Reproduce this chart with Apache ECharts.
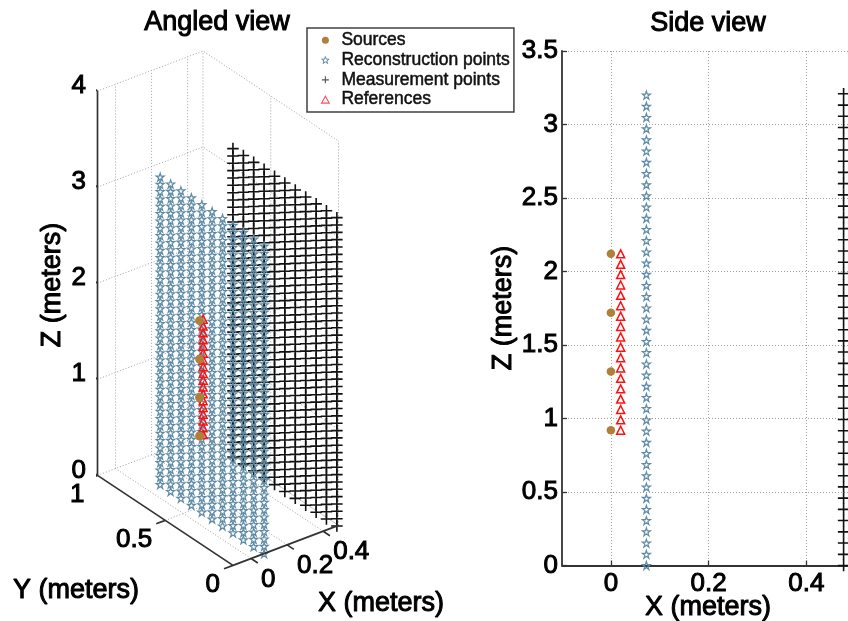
<!DOCTYPE html>
<html><head><meta charset="utf-8">
<script src="https://cdn.jsdelivr.net/npm/echarts@6/dist/echarts.min.js"></script>
<style>html,body{margin:0;padding:0;background:#fff}#c{width:848px;height:621px}</style>
</head><body><div id="c"></div>
<script>
// ---- data (metres) ----
const reconX = 0.0726;
const measX = 0.476;
const sourceX = 0;
const refX = 0.02;
const sourceRefY = 0.38;
const planeY = [0,0.077,0.153,0.23,0.307,0.384,0.46,0.537,0.614,0.69,0.767];
const reconZ = [0,0.076,0.152,0.229,0.305,0.381,0.457,0.533,0.61,0.686,0.762,0.838,0.914,0.99,1.067,1.143,1.219,1.295,1.371,1.448,1.524,1.6,1.676,1.752,1.829,1.905,1.981,2.057,2.133,2.21,2.286,2.362,2.438,2.514,2.59,2.667,2.743,2.819,2.895,2.971,3.048,3.124,3.2];
const measZ = [0,0.076,0.153,0.229,0.306,0.382,0.458,0.535,0.611,0.688,0.764,0.84,0.917,0.993,1.07,1.146,1.222,1.299,1.375,1.452,1.528,1.604,1.681,1.757,1.834,1.91,1.986,2.063,2.139,2.216,2.292,2.368,2.445,2.521,2.598,2.674,2.75,2.827,2.903,2.98,3.056,3.132,3.209];
const sourceZ = [0.92,1.32,1.72,2.12];
const refZ = [0.92,0.991,1.061,1.132,1.202,1.273,1.344,1.414,1.485,1.555,1.626,1.696,1.767,1.838,1.908,1.979,2.049,2.12];
const xTicks = [0,0.2,0.4];
const yTicks = [0,0.5,1];
const zTicks = [0,1,2,3,4];
const xRange = [-0.1,0.485];
const yRange = [0,1];
const zRange = [0,4];
const seriesNames = ['Sources','Reconstruction points','Measurement points','References'];

// ---- styling ----
const FONT = '"Liberation Sans", Arial, sans-serif';
const AX = '#333333', GRIDC = '#a0a0a0';
const BROWN = '#b0803a', BLUE = '#5f8ba6', RED = '#ff1010', BLACK = '#111111';
const STAR = 'path://M5 0L6.2 3.6L10 3.6L6.9 5.9L8.1 9.5L5 7.2L1.9 9.5L3.1 5.9L0 3.6L3.8 3.6Z';
const PLUS = 'path://M5 0V10M0 5H10';
const TRI = 'path://M5 0L10 9L0 9Z';
const TICKFONT = {fontFamily:FONT,fontWeight:'normal',fontSize:26,color:'#000',textBorderColor:'#000',textBorderWidth:1};

// oblique view of the 3-D box onto the hidden plane of the left grid
const proj = (x,y,z) => [x - 0.7515*y, 0.3794*x + 0.4992*y + 0.533*z];
const uMin = proj(xRange[0],yRange[1],0)[0], uMax = proj(xRange[1],yRange[0],0)[0];
const vMin = proj(xRange[0],yRange[0],0)[1], vMax = proj(xRange[1],yRange[1],zRange[1])[1];

const grid3 = (x, ys, zs) => { const o=[]; ys.forEach(y=>zs.forEach(z=>o.push(proj(x,y,z)))); return o; };
const side = (x, zs) => zs.map(z=>[x,z]);

const polyl = (segs) => { const o=[]; segs.forEach(s=>{ s.forEach(p=>o.push(proj(p[0],p[1],p[2]))); o.push([null,null]); }); return o; };
const [x0,x1]=xRange, [y0,y1]=yRange, zT=zRange[1];
const gridSegs = [];
zTicks.forEach(z=>gridSegs.push([[x0,y1,z],[x1,y1,z],[x1,y0,z]]));
xTicks.concat([x1]).forEach(x=>{ gridSegs.push([[x,y1,0],[x,y1,zT]]); gridSegs.push([[x,y0,0],[x,y1,0]]); });
gridSegs.push([[x1,0.5,0],[x1,0.5,zT]]);
gridSegs.push([[x1,y0,0],[x1,y0,zT]]);
gridSegs.push([[x0,0.5,0],[x1,0.5,0]]);
const axisSegs = [
  [[x0,y1,0],[x0,y1,zT]],
  [[x0,y0,0],[x0,y1,0]],
  [[x0,y0,0],[x1,y0,0]]
];
zTicks.forEach(z=>axisSegs.push([[x0,y1,z],[x0,y1+0.06,z]]));
yTicks.forEach(y=>axisSegs.push([[x0,y,0],[x0-0.05,y,0]]));
xTicks.forEach(x=>axisSegs.push([[x,y0,0],[x,y0-0.05,0]]));

const tickLabels = (pts, texts, align, offset, name) => ({
  type:'scatter', xAxisIndex:0, yAxisIndex:0, symbolSize:0, silent:true, clip:false, name,
  itemStyle:{opacity:1},
  data: pts.map((p,i)=>({value:p, txt:String(texts[i])})),
  label:Object.assign({show:true, position:'inside', align, verticalAlign:'middle', offset,
    formatter:(d)=>d.data.txt}, TICKFONT),
  z:6
});

const mark = (name, symbol, size, style, z, data, xi) => ({
  type:'scatter', name, symbol, symbolSize:size, itemStyle:Object.assign({opacity:1},style), data, z,
  xAxisIndex:xi, yAxisIndex:xi, silent:true, clip:false, progressive:0
});
const sSource={color:BROWN,borderWidth:0}, sStar={color:'none',borderColor:BLUE,borderWidth:1.2},
      sPlus={color:'none',borderColor:BLACK,borderWidth:1.6}, sRef={color:'none',borderColor:RED,borderWidth:1.5};

const txt = (text,x,y,rot) => ({type:'text', x, y, rotation:rot||0, z:20,
  style:{text, fontFamily:FONT, fontWeight:'normal', fontSize:27, fill:'#000', stroke:'#000', lineWidth:1, align:'center', verticalAlign:'middle'}});

const option = {
  animation:false,
  backgroundColor:'#fff',
  grid:[
    {left:97.5, top:51, width:241, height:514.4},
    {left:562, top:51, width:286, height:514.5}
  ],
  xAxis:[
    {type:'value', gridIndex:0, min:uMin, max:uMax, show:false},
    {type:'value', gridIndex:1, min:xRange[0], max:xRange[1], position:'bottom',
     axisLine:{show:true,onZero:false,lineStyle:{color:AX,width:1.8}},
     axisTick:{show:true,inside:true,length:5,customValues:xTicks,lineStyle:{color:AX,width:1.3}},
     axisLabel:Object.assign({customValues:xTicks,margin:5,hideOverlap:false},TICKFONT),
     splitLine:{show:true,lineStyle:{color:GRIDC,type:[1,2],width:1}}}
  ],
  yAxis:[
    {type:'value', gridIndex:0, min:vMin, max:vMax, show:false},
    {type:'value', gridIndex:1, min:0, max:3.5, interval:0.5, position:'left',
     axisLine:{show:true,onZero:false,lineStyle:{color:AX,width:1.8}},
     axisTick:{show:true,inside:true,length:5,lineStyle:{color:AX,width:1.3}},
     axisLabel:Object.assign({margin:4,padding:[4,0,0,0]},TICKFONT),
     splitLine:{show:true,lineStyle:{color:GRIDC,type:[1,2],width:1}}}
  ],
  legend:{
    show:true, orient:'vertical', left:307, top:28, z:30,
    data:[
      {name:seriesNames[0],icon:'circle',itemStyle:{color:BROWN,borderWidth:0,opacity:1}},
      {name:seriesNames[1],icon:STAR,itemStyle:{color:'none',borderColor:BLUE,borderWidth:1,opacity:1}},
      {name:seriesNames[2],icon:PLUS,itemStyle:{color:'none',borderColor:'#555',borderWidth:1.1,opacity:1}},
      {name:seriesNames[3],icon:TRI,itemStyle:{color:'none',borderColor:'#ff5060',borderWidth:1.1,opacity:1}}
    ],
    selectedMode:false, backgroundColor:'#fff', borderColor:'#404040', borderWidth:1.5,
    padding:[3,4,3,12], itemWidth:22, itemHeight:7, itemGap:1.3,
    textStyle:{fontFamily:FONT,fontWeight:'normal',fontSize:17.5,color:'#111',lineHeight:17,textBorderColor:'#111',textBorderWidth:0.5}
  },
  graphic:[
    txt('Angled view',217,23), txt('Side view',708,24),
    txt('Z (meters)',53,285,Math.PI/2), txt('Y (meters)',76,591), txt('X (meters)',381,604),
    txt('Z (meters)',504,308,Math.PI/2), txt('X (meters)',708,608)
  ],
  series:[
    {type:'line',xAxisIndex:0,yAxisIndex:0,name:'walls',data:polyl(gridSegs),showSymbol:false,symbol:'none',silent:true,clip:false,connectNulls:false,lineStyle:{color:GRIDC,width:1,type:[1,2]},z:1},
    {type:'line',xAxisIndex:0,yAxisIndex:0,name:'axes',data:polyl(axisSegs),showSymbol:false,symbol:'none',silent:true,clip:false,connectNulls:false,lineStyle:{color:AX,width:1.7},z:5},
    tickLabels(zTicks.map(z=>proj(x0,y1,z)),zTicks,'right',[-11.5,-5],'zl'),
    tickLabels(yTicks.map(y=>proj(x0,y,0)),yTicks,'right',[-13,19],'yl'),
    tickLabels(xTicks.map(x=>proj(x,y0,0)),xTicks,'left',[10,21],'xl'),
    mark(seriesNames[2],PLUS,11.5,sPlus,2,grid3(measX,planeY,measZ),0),
    mark(seriesNames[1],STAR,8,sStar,3,grid3(reconX,planeY,reconZ),0),
    mark(seriesNames[3],TRI,8,sRef,4,refZ.map(z=>proj(refX,sourceRefY,z)),0),
    mark(seriesNames[0],'circle',9,sSource,5,sourceZ.map(z=>proj(sourceX,sourceRefY,z)),0),
    mark(seriesNames[2],PLUS,11.5,sPlus,2,side(measX,measZ),1),
    mark(seriesNames[1],STAR,8,sStar,3,side(reconX,reconZ),1),
    mark(seriesNames[3],TRI,8,sRef,4,side(refX,refZ),1),
    mark(seriesNames[0],'circle',8.5,sSource,5,side(sourceX,sourceZ),1)
  ]
};
echarts.init(document.getElementById('c'),null,{renderer:'canvas'}).setOption(option);
</script></body></html>
